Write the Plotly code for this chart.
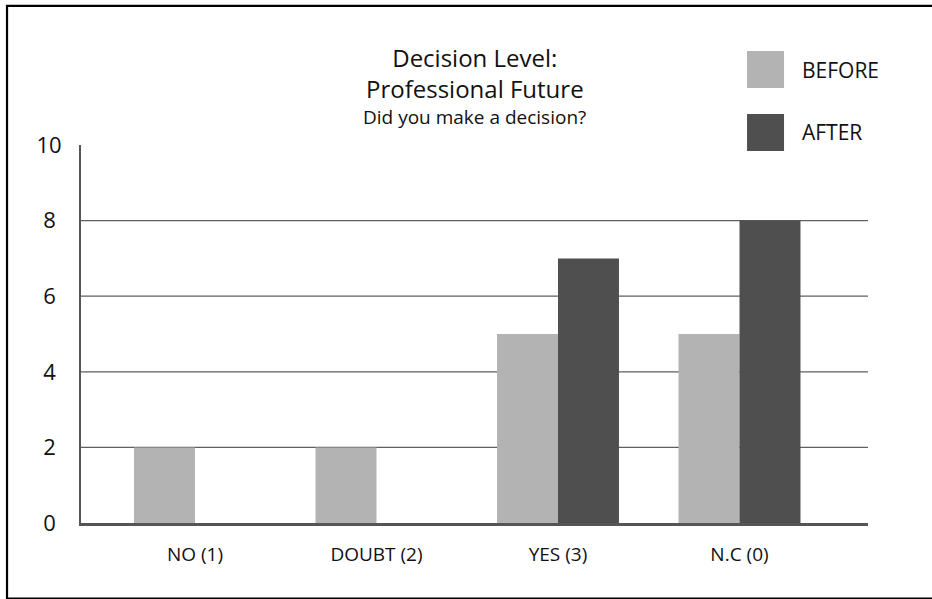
import plotly.graph_objects as go

categories = ["NO (1)", "DOUBT (2)", "YES (3)", "N.C (0)"]
before = [2, 2, 5, 5]
after = [0, 0, 7, 8]
y_ticks = [0, 2, 4, 6, 8, 10]
y_tick_labels = ["0\u00a0", "2\u00a0", "4\u00a0", "6\u00a0", "8\u00a0", "10"]
grid_values = [2, 4, 6, 8]

C_BEFORE = "#b3b3b3"
C_AFTER = "#4f4f4f"
AXIS_C = "#555555"
TXT = "#111111"
FONT = "Open Sans"

fig = go.Figure()
fig.add_trace(go.Bar(name="BEFORE", x=categories, y=before, marker=dict(color=C_BEFORE, line=dict(width=0))))
fig.add_trace(go.Bar(name="AFTER", x=categories, y=after, marker=dict(color=C_AFTER, line=dict(width=0))))

shapes = []
for g in grid_values:
    shapes.append(dict(type="line", xref="paper", yref="y", x0=0, x1=1, y0=g, y1=g,
                       line=dict(color="#5f5f5f", width=1.2), layer="below"))
# outer frame
shapes.append(dict(type="rect", xref="paper", yref="paper", x0=-0.094, x1=1.12, y0=-0.2, y1=1.368,
                   line=dict(color="black", width=2.2)))
# legend swatches
shapes.append(dict(type="rect", xref="paper", yref="paper", x0=0.8463, x1=0.8933, y0=1.1508, y1=1.2487,
                   fillcolor=C_BEFORE, line=dict(width=0)))
shapes.append(dict(type="rect", xref="paper", yref="paper", x0=0.8463, x1=0.8933, y0=0.9841, y1=1.082,
                   fillcolor=C_AFTER, line=dict(width=0)))

annotations = [
    dict(text="Decision Level:<br>Professional Future", x=0.5, y=1.1892, xref="paper", yref="paper",
         showarrow=False, align="center",
         xanchor="center", yanchor="middle", font=dict(family=FONT, size=24, color=TXT)),
    dict(text="Did you make a decision?", x=0.5, y=1.0728, xref="paper", yref="paper", showarrow=False,
         xanchor="center", yanchor="middle", font=dict(family=FONT, size=19, color=TXT)),
    dict(text="BEFORE", x=0.9136, y=1.1997, xref="paper", yref="paper", showarrow=False,
         xanchor="left", yanchor="middle", font=dict(family=FONT, size=21, color=TXT)),
    dict(text="AFTER", x=0.9136, y=1.0331, xref="paper", yref="paper", showarrow=False,
         xanchor="left", yanchor="middle", font=dict(family=FONT, size=21, color=TXT)),
]

fig.update_layout(
    width=932, height=599,
    margin=dict(l=81, r=64, t=145, b=76),
    paper_bgcolor="white", plot_bgcolor="white",
    barmode="group", bargap=0.328, bargroupgap=0,
    showlegend=False, hovermode=False,
    shapes=shapes, annotations=annotations,
    xaxis=dict(type="category", range=[-0.628, 3.708], showgrid=False, zeroline=False,
               showline=True, linecolor=AXIS_C, linewidth=2.5, ticks="",
               ticklabelstandoff=12,
               tickfont=dict(family=FONT, size=19, color=TXT)),
    yaxis=dict(range=[0, 10], tickvals=y_ticks, ticktext=y_tick_labels, showgrid=False, zeroline=False,
               showline=True, linecolor=AXIS_C, linewidth=2, ticks="",
               ticklabelstandoff=13,
               tickfont=dict(family=FONT, size=22, color=TXT)),
)

fig.write_html("out.html", config={"displayModeBar": False},
               post_script="document.body.style.margin='0';")
